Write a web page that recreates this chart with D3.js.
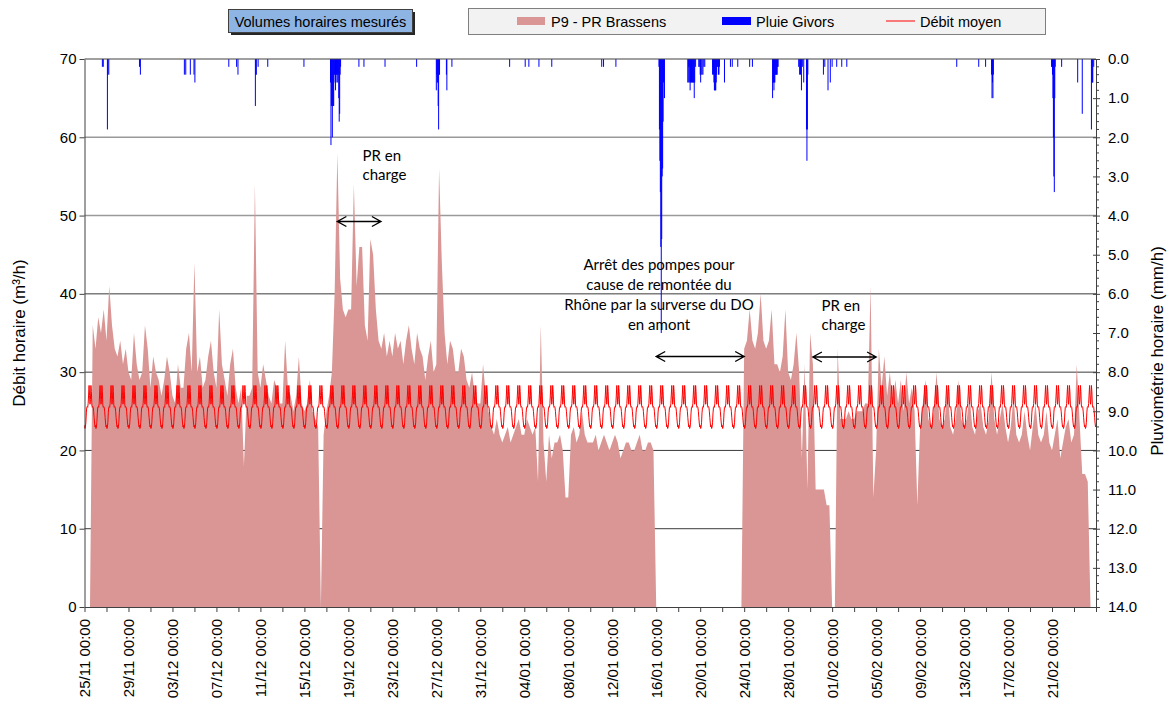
<!DOCTYPE html>
<html>
<head>
<meta charset="utf-8">
<script src="https://cdn.jsdelivr.net/npm/d3@7"></script>
<style>
  body { margin: 0; background: #ffffff; }
  svg { display: block; }
</style>
</head>
<body>
<svg id="chart" width="1173" height="702"></svg>
<script>
// ---------------- DATA ----------------
const debutSerie = "2013-11-25T00:00:00Z";
const finAxe = "2014-02-25T00:00:00Z";
const pasHeures = 6; // one value every 6 hours (00h, 06h, 12h, 18h)

// P9 - PR Brassens, débit horaire (m3/h), 4 values per day from 25/11
const p9Brassens = [
  0, 0, 0, 36,      // 25/11
  33, 37, 35, 38,   // 26/11
  34, 41, 36, 33,   // 27/11
  32, 34, 31, 33,   // 28/11
  30, 29, 35, 31,   // 29/11
  29, 30, 36, 33,   // 30/11
  28, 32, 30, 29,   // 01/12
  27, 29, 32, 30,   // 02/12
  27, 26, 31, 28,   // 03/12
  28, 33, 35, 30,   // 04/12
  44, 30, 32, 28,   // 05/12
  29, 32, 34, 30,   // 06/12
  28, 38, 31, 29,   // 07/12
  27, 31, 33, 28,   // 08/12
  26, 28, 18, 27,   // 09/12
  27, 28, 54, 30,   // 10/12
  28, 31, 29, 27,   // 11/12
  26, 29, 28, 26,   // 12/12
  26, 34, 28, 27,   // 13/12
  25, 27, 32, 26,   // 14/12
  25, 26, 29, 25,   // 15/12
  24, 23, 0, 22,    // 16/12
  25, 27, 30, 40,   // 17/12
  58, 42, 38, 37,   // 18/12
  38, 38, 54, 41,   // 19/12
  46, 46, 36, 34,   // 20/12
  47, 45, 38, 34,   // 21/12
  33, 35, 32, 34,   // 22/12
  32, 35, 33, 34,   // 23/12
  31, 34, 36, 33,   // 24/12
  31, 35, 33, 32,   // 25/12
  29, 32, 34, 30,   // 26/12
  31, 56, 44, 35,   // 27/12
  31, 34, 33, 30,   // 28/12
  30, 33, 32, 29,   // 29/12
  28, 30, 27, 26,   // 30/12
  26, 31, 27, 25,   // 31/12
  23, 22, 24, 22,   // 01/01
  21, 22, 23, 21,   // 02/01
  22, 23, 24, 22,   // 03/01
  22, 24, 23, 22,   // 04/01
  23, 16, 36, 21,   // 05/01
  16, 22, 19, 21,   // 06/01
  21, 22, 20, 14,   // 07/01
  14, 22, 23, 21,   // 08/01
  22, 25, 22, 21,   // 09/01
  21, 21, 22, 20,   // 10/01
  21, 22, 21, 20,   // 11/01
  21, 22, 21, 19,   // 12/01
  20, 21, 21, 20,   // 13/01
  20, 21, 22, 20,   // 14/01
  20, 21, 21, 20,   // 15/01
  0, 0, 0, 0,       // 16/01
  0, 0, 0, 0,       // 17/01
  0, 0, 0, 0,       // 18/01
  0, 0, 0, 0,       // 19/01
  0, 0, 0, 0,       // 20/01
  0, 0, 0, 0,       // 21/01
  0, 0, 0, 0,       // 22/01
  0, 0, 0, 0,       // 23/01
  33, 34, 38, 34,   // 24/01
  33, 35, 40, 34,   // 25/01
  33, 34, 38, 31,   // 26/01
  31, 30, 32, 38,   // 27/01
  30, 29, 31, 35,   // 28/01
  30, 19, 31, 15,   // 29/01
  35, 31, 15, 15,   // 30/01
  15, 15, 13, 13,   // 31/01
  0, 0, 33, 24,     // 01/02
  24, 24, 25, 24,   // 02/02
  24, 25, 25, 25,   // 03/02
  26, 26, 41, 14,   // 04/02
  20, 33, 28, 32,   // 05/02
  27, 30, 26, 29,   // 06/02
  26, 29, 25, 30,   // 07/02
  26, 28, 25, 13,   // 08/02
  23, 26, 29, 24,   // 09/02
  23, 25, 30, 24,   // 10/02
  23, 24, 28, 23,   // 11/02
  22, 24, 29, 24,   // 12/02
  23, 24, 27, 23,   // 13/02
  22, 25, 26, 23,   // 14/02
  22, 24, 30, 24,   // 15/02
  22, 24, 26, 23,   // 16/02
  21, 23, 27, 22,   // 17/02
  21, 22, 25, 22,   // 18/02
  20, 23, 26, 22,   // 19/02
  21, 22, 25, 21,   // 20/02
  20, 22, 24, 19,   // 21/02
  21, 23, 24, 21,   // 22/02
  22, 31, 24, 17,   // 23/02
  17, 16, 0, 0      // 24/02
];

// Débit moyen : profil horaire journalier (m3/h), heures 00h..23h
const debitMoyenProfil = [
  23.2, 22.8, 23.0, 23.6, 24.8, 25.5, 25.6, 25.5, 26.0, 27.2, 28.3, 27.0,
  25.9, 26.5, 28.3, 27.5, 25.8, 25.5, 25.6, 25.5, 25.0, 24.2, 23.5, 23.0
];

// Pluie Givors (mm/h) : [heure, hauteur]
const pluieGivors = [
  ["2013-11-26T15", 0.2], ["2013-11-26T17", 0.2],
  ["2013-11-27T02", 1.8], ["2013-11-27T03", 0.4], ["2013-11-27T05", 0.4],
  ["2013-11-30T00", 0.2], ["2013-11-30T02", 0.4],
  ["2013-12-04T02", 0.4], ["2013-12-04T05", 0.4], ["2013-12-04T15", 0.4], ["2013-12-04T23", 0.4], ["2013-12-05T01", 0.6],
  ["2013-12-08T03", 0.2], ["2013-12-08T20", 0.2], ["2013-12-08T23", 0.4],
  ["2013-12-10T13", 1.2], ["2013-12-10T14", 0.4], ["2013-12-10T15", 0.4], ["2013-12-10T19", 0.2],
  ["2013-12-11T16", 0.2], ["2013-12-14T23", 0.2],
  ["2013-12-17T09", 0.6], ["2013-12-17T10", 2.2], ["2013-12-17T11", 1.2], ["2013-12-17T12", 1.2],
  ["2013-12-17T13", 2.0], ["2013-12-17T14", 1.2], ["2013-12-17T15", 1.2], ["2013-12-17T16", 1.2],
  ["2013-12-17T17", 0.4], ["2013-12-17T18", 0.4], ["2013-12-17T19", 0.6], ["2013-12-17T20", 0.8],
  ["2013-12-17T21", 0.4], ["2013-12-17T22", 0.4], ["2013-12-17T23", 0.6], ["2013-12-18T00", 0.4],
  ["2013-12-18T01", 0.6], ["2013-12-18T02", 0.4], ["2013-12-18T03", 1.0], ["2013-12-18T04", 1.6],
  ["2013-12-18T05", 1.4], ["2013-12-18T06", 0.4], ["2013-12-18T07", 0.2],
  ["2013-12-19T23", 0.2], ["2013-12-20T10", 0.2], ["2013-12-22T08", 0.2], ["2013-12-25T05", 0.2],
  ["2013-12-27T00", 0.8], ["2013-12-27T01", 0.4], ["2013-12-27T02", 0.6], ["2013-12-27T03", 0.6],
  ["2013-12-27T04", 1.2], ["2013-12-27T05", 1.8], ["2013-12-27T06", 0.4], ["2013-12-27T07", 0.4],
  ["2013-12-27T22", 0.4], ["2013-12-27T23", 0.8], ["2013-12-28T10", 0.2],
  ["2014-01-02T16", 0.2], ["2014-01-04T02", 0.2], ["2014-01-04T10", 0.2], ["2014-01-05T08", 0.2], ["2014-01-06T12", 0.2],
  ["2014-01-11T01", 0.2], ["2014-01-11T05", 0.2], ["2014-01-12T08", 0.2],
  ["2014-01-16T06", 0.2], ["2014-01-16T07", 1.8], ["2014-01-16T08", 2.6], ["2014-01-16T09", 3.4],
  ["2014-01-16T10", 4.8], ["2014-01-16T11", 7.0], ["2014-01-16T12", 4.6], ["2014-01-16T13", 3.0],
  ["2014-01-16T14", 2.8], ["2014-01-16T15", 1.6], ["2014-01-16T16", 0.6], ["2014-01-16T18", 1.0],
  ["2014-01-18T21", 0.6], ["2014-01-18T22", 0.6], ["2014-01-18T23", 0.2], ["2014-01-19T00", 0.2],
  ["2014-01-19T01", 0.6], ["2014-01-19T02", 0.8], ["2014-01-19T03", 0.6], ["2014-01-19T04", 0.6],
  ["2014-01-19T05", 0.6], ["2014-01-19T06", 0.4], ["2014-01-19T07", 0.6], ["2014-01-19T08", 0.6],
  ["2014-01-19T09", 0.6], ["2014-01-19T10", 0.6], ["2014-01-19T11", 1.0], ["2014-01-19T12", 0.6],
  ["2014-01-19T14", 0.2], ["2014-01-19T21", 0.2], ["2014-01-19T22", 0.2], ["2014-01-20T00", 0.4],
  ["2014-01-20T01", 0.6], ["2014-01-20T02", 0.4], ["2014-01-20T04", 0.4], ["2014-01-20T06", 0.4],
  ["2014-01-20T08", 0.2], ["2014-01-20T10", 0.2],
  ["2014-01-21T03", 0.4], ["2014-01-21T04", 0.2], ["2014-01-21T05", 0.4], ["2014-01-21T06", 0.6],
  ["2014-01-21T07", 0.8], ["2014-01-21T08", 0.8], ["2014-01-21T09", 0.8], ["2014-01-21T10", 0.8],
  ["2014-01-21T11", 0.6], ["2014-01-21T12", 0.4], ["2014-01-21T13", 0.2], ["2014-01-21T14", 0.2],
  ["2014-01-21T16", 0.4], ["2014-01-21T17", 0.4], ["2014-01-21T18", 0.2],
  ["2014-01-22T05", 0.6], ["2014-01-22T18", 0.2], ["2014-01-22T22", 0.2], ["2014-01-23T10", 0.2],
  ["2014-01-24T12", 0.2], ["2014-01-24T18", 0.2],
  ["2014-01-26T14", 1.0], ["2014-01-26T15", 0.6], ["2014-01-26T16", 0.6], ["2014-01-26T17", 0.8],
  ["2014-01-26T18", 0.6], ["2014-01-26T19", 0.6], ["2014-01-26T20", 0.4], ["2014-01-26T21", 0.4],
  ["2014-01-26T22", 0.4], ["2014-01-26T23", 0.4], ["2014-01-27T00", 0.4], ["2014-01-27T01", 0.2],
  ["2014-01-27T02", 0.2],
  ["2014-01-28T23", 0.2], ["2014-01-29T01", 0.4], ["2014-01-29T03", 0.4], ["2014-01-29T05", 0.8],
  ["2014-01-29T07", 0.2], ["2014-01-29T10", 0.6],
  ["2014-01-29T16", 1.8], ["2014-01-29T17", 2.6], ["2014-01-29T18", 1.8], ["2014-01-29T19", 0.4],
  ["2014-01-31T05", 0.4], ["2014-01-31T08", 0.2], ["2014-01-31T15", 0.8], ["2014-01-31T20", 0.6],
  ["2014-02-01T00", 0.2], ["2014-02-01T10", 0.2], ["2014-02-01T21", 0.2], ["2014-02-02T08", 0.2],
  ["2014-02-12T08", 0.2], ["2014-02-14T08", 0.2], ["2014-02-14T23", 0.2],
  ["2014-02-15T12", 0.4], ["2014-02-15T13", 1.0], ["2014-02-15T14", 0.6], ["2014-02-15T15", 1.0], ["2014-02-15T16", 0.4],
  ["2014-02-20T23", 0.2], ["2014-02-21T00", 0.2], ["2014-02-21T01", 0.4], ["2014-02-21T02", 1.0],
  ["2014-02-21T03", 2.0], ["2014-02-21T04", 3.0], ["2014-02-21T05", 3.4], ["2014-02-21T06", 1.0],
  ["2014-02-21T07", 0.2], ["2014-02-21T21", 0.2],
  ["2014-02-23T08", 0.6], ["2014-02-23T18", 1.4],
  ["2014-02-24T14", 1.8], ["2014-02-24T15", 0.6], ["2014-02-24T16", 0.6], ["2014-02-24T17", 0.6], ["2014-02-24T19", 0.2]
];

const yTicksDebit = [0, 10, 20, 30, 40, 50, 60, 70];
const yTicksPluie = [0, 1, 2, 3, 4, 5, 6, 7, 8, 9, 10, 11, 12, 13, 14];
const grilleDebit = [10, 20, 30, 40, 50, 60];
const joursEtiquettes = 4; // label every 4 days
const joursGraduations = 2; // tick every 2 days

const legendeSeries = ["P9 - PR Brassens", "Pluie Givors", "Débit moyen"];
const titreEncadre = "Volumes horaires mesurés";
const titreAxeGauche = "Débit horaire (m³/h)";
const titreAxeDroit = "Pluviométrie horaire (mm/h)";
const annotations = [
  { lignes: ["PR en", "charge"], debut: "2013-12-18T00", fin: "2013-12-21T23", texteAncre: "start" },
  { lignes: ["Arrêt des pompes pour", "cause de remontée du", "Rhône par la surverse du DO", "en amont"], debut: "2014-01-16T00", fin: "2014-01-24T00", texteAncre: "middle" },
  { lignes: ["PR en", "charge"], debut: "2014-01-30T06", fin: "2014-02-05T00", texteAncre: "start" }
];

// ---------------- LAYOUT / STYLE ----------------
const COL_P9 = "#d99694";
const COL_PLUIE = "#0000ff";
const COL_MOY = "#ff0000";
const AXIS_COL = "#404040";
const FONT = "'Liberation Sans', Arial, sans-serif";
const ANNOT_FONT = "Lato, 'Open Sans', sans-serif";

const L = 84.5, R = 1096, T = 59, B = 607;

const parseH = s => new Date(s.length === 13 ? s + ":00:00Z" : s);
const t0 = new Date(debutSerie), t1 = new Date(finAxe);
const HOUR = 3600 * 1000, DAY = 24 * HOUR;

const x = d3.scaleUtc().domain([t0, t1]).range([L, R]);
const y = d3.scaleLinear().domain([0, 70]).range([B, T]);
const yr = d3.scaleLinear().domain([0, 14]).range([T, B]);

const svg = d3.select("#chart");

// gridlines
svg.append("g").selectAll("line").data(grilleDebit).join("line")
  .attr("x1", L).attr("x2", R)
  .attr("y1", d => y(d)).attr("y2", d => y(d))
  .attr("stroke", d => d >= 50 ? "#9a9a9a" : "#3a3a3a")
  .attr("stroke-width", d => d >= 50 ? 1.6 : 1);

// P9 area
const p9Data = p9Brassens.map((v, i) => ({ t: new Date(t0.getTime() + i * pasHeures * HOUR), v }));
svg.append("path")
  .datum(p9Data)
  .attr("fill", COL_P9)
  .attr("d", d3.area().x(d => x(d.t)).y0(y(0)).y1(d => y(d.v)).curve(d3.curveLinear));

// Débit moyen line (daily profile repeated each day)
const nJours = Math.round((t1 - t0) / DAY);
const moyData = [];
for (let j = 0; j < nJours; j++) {
  debitMoyenProfil.forEach((v, h) => moyData.push({ t: new Date(t0.getTime() + j * DAY + h * HOUR), v }));
}
moyData.push({ t: t1, v: debitMoyenProfil[0] });
svg.append("path")
  .datum(moyData)
  .attr("fill", "none")
  .attr("stroke", COL_MOY)
  .attr("stroke-width", 1)
  .attr("d", d3.line().x(d => x(d.t)).y(d => y(d.v)));

// Pluie bars hanging from top
svg.append("g").selectAll("rect").data(pluieGivors).join("rect")
  .attr("x", d => x(parseH(d[0])) - 0.5)
  .attr("width", 1)
  .attr("y", yr(0))
  .attr("height", d => yr(d[1]) - yr(0))
  .attr("fill", COL_PLUIE);

// ---------- axes ----------
const gL = svg.append("g").attr("transform", `translate(${L},0)`)
  .call(d3.axisLeft(y).tickValues(yTicksDebit).tickSize(5).tickSizeOuter(0).tickPadding(3));
const gR = svg.append("g").attr("transform", `translate(${R},0)`)
  .call(d3.axisRight(yr).tickValues(yTicksPluie).tickFormat(d3.format(".1f")).tickSize(4).tickSizeOuter(0).tickPadding(8));
gR.selectAll(".tick line").attr("x1", -3).attr("x2", 4);
const minorPluie = d3.range(0, 14.001, 0.2).filter(v => Math.abs(v - Math.round(v)) > 1e-6);
svg.append("g").selectAll("line").data(minorPluie).join("line")
  .attr("x1", R).attr("x2", R + 3)
  .attr("y1", d => yr(d)).attr("y2", d => yr(d))
  .attr("stroke", AXIS_COL).attr("stroke-width", 1);

const tickDays = d3.range(0, nJours + 1, joursGraduations).map(j => new Date(t0.getTime() + j * DAY));
const labelDays = d3.range(0, nJours, joursEtiquettes).map(j => new Date(t0.getTime() + j * DAY)).filter(d => d < t1 - DAY);
const gB = svg.append("g").attr("transform", `translate(0,${B})`)
  .call(d3.axisBottom(x).tickValues(tickDays).tickSize(5).tickSizeOuter(0).tickFormat(""));
const gBL = svg.append("g").attr("transform", `translate(0,${B})`)
  .call(d3.axisBottom(x).tickValues(labelDays).tickSize(0).tickFormat(d3.utcFormat("%d/%m %H:%M")));
gBL.select(".domain").remove();
gBL.selectAll("text")
  .attr("transform", "rotate(-90)")
  .attr("x", -12).attr("y", 0).attr("dy", "0.36em")
  .attr("text-anchor", "end");

[gL, gR, gB, gBL].forEach(g => {
  g.selectAll(".domain").attr("stroke", AXIS_COL);
  g.selectAll(".tick line").attr("stroke", AXIS_COL);
  g.selectAll("text").attr("fill", "#000").style("font-family", FONT).style("font-size", "15px");
});
svg.append("line").attr("x1", L).attr("x2", R).attr("y1", T).attr("y2", T).attr("stroke", AXIS_COL);

// axis titles
svg.append("text")
  .attr("transform", `translate(19,333) rotate(-90)`)
  .attr("text-anchor", "middle").attr("dominant-baseline", "central")
  .style("font-family", FONT).style("font-size", "17px").text(titreAxeGauche);
svg.append("text")
  .attr("transform", `translate(1157,351) rotate(-90)`)
  .attr("text-anchor", "middle").attr("dominant-baseline", "central")
  .style("font-family", FONT).style("font-size", "17px").text(titreAxeDroit);

// ---------- annotations ----------
const annotY = [[161, 180, 221.5], [270, 290, 310, 330, 356.5], [311, 330, 357]];
const annotX = [362.5, 659, 821.5];
annotations.forEach((a, k) => {
  const ys = annotY[k];
  a.lignes.forEach((ln, i) => {
    svg.append("text")
      .attr("x", annotX[k])
      .attr("y", ys[i])
      .attr("text-anchor", a.texteAncre)
      .style("font-family", ANNOT_FONT).style("font-size", "15px").attr("fill", "#000")
      .text(ln);
  });
  const ay = ys[ys.length - 1];
  const xa = x(parseH(a.debut)), xb = x(parseH(a.fin));
  svg.append("path")
    .attr("d", `M${xa},${ay}L${xb},${ay}M${xa + 9},${ay - 5}L${xa},${ay}L${xa + 9},${ay + 5}M${xb - 9},${ay - 5}L${xb},${ay}L${xb - 9},${ay + 5}`)
    .attr("fill", "none").attr("stroke", "#000").attr("stroke-width", 1.4);
});

// ---------- legends ----------
svg.append("rect").attr("x", 231).attr("y", 12).attr("width", 184).attr("height", 23).attr("fill", "#262626");
svg.append("rect").attr("x", 228.5).attr("y", 9.5).attr("width", 184).attr("height", 23)
  .attr("fill", "#8db4e2").attr("stroke", "#404040").attr("stroke-width", 1);
svg.append("text").attr("x", 320.5).attr("y", 26.5).attr("text-anchor", "middle")
  .style("font-family", FONT).style("font-size", "14.5px").text(titreEncadre);

svg.append("rect").attr("x", 468.5).attr("y", 8.5).attr("width", 577).attr("height", 26)
  .attr("fill", "#f2f2f2").attr("stroke", "#7f7f7f").attr("stroke-width", 1);
const legX = [517, 722, 886];
const lg = svg.append("g");
lg.append("rect").attr("x", legX[0]).attr("y", 17).attr("width", 28).attr("height", 8).attr("fill", COL_P9);
lg.append("rect").attr("x", legX[1]).attr("y", 17).attr("width", 29).attr("height", 8).attr("fill", COL_PLUIE);
lg.append("line").attr("x1", legX[2]).attr("x2", legX[2] + 29).attr("y1", 21).attr("y2", 21).attr("stroke", COL_MOY).attr("stroke-width", 1);
legendeSeries.forEach((s, i) => {
  lg.append("text").attr("x", [551, 756, 920][i]).attr("y", 26.5)
    .style("font-family", FONT).style("font-size", "14.5px").text(s);
});
</script>
</body>
</html>
